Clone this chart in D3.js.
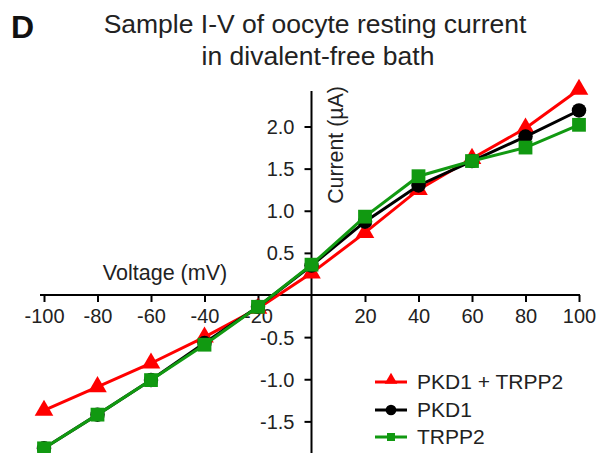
<!DOCTYPE html>
<html><head><meta charset="utf-8">
<script src="https://cdn.jsdelivr.net/npm/d3@7"></script>
<style>body{margin:0;background:#fff}svg{display:block;font-family:"Liberation Sans",Arial,sans-serif}</style>
</head><body><svg id="c" width="600" height="453"></svg>
<script>
const voltages = [-100,-80,-60,-40,-20,0,20,40,60,80,100];
const pkd1Trpp2 = [-1.37,-1.09,-0.81,-0.50,-0.16,0.26,0.74,1.25,1.62,1.98,2.44];
const pkd1 = [-1.82,-1.42,-1.01,-0.57,-0.14,0.35,0.87,1.30,1.59,1.88,2.19];
const trpp2 = [-1.82,-1.42,-1.01,-0.59,-0.14,0.36,0.93,1.41,1.59,1.75,2.02];
const xTicks = [-100,-80,-60,-40,-20,20,40,60,80,100];
const yTicks = [-1.5,-1.0,-0.5,0.5,1.0,1.5,2.0];
const seriesNames = ["PKD1 + TRPP2","PKD1","TRPP2"];
const seriesColors = ["#ff0000","#000000","#119911"];
const seriesShapes = [d3.symbolTriangle, d3.symbolCircle, d3.symbolSquare];

const svg = d3.select("#c");
const x = d3.scaleLinear().domain([-100,100]).range([44,579]);
const y = d3.scaleLinear().domain([0,2]).range([295,126.5]);

svg.append("text").attr("x",11).attr("y",38).attr("font-size",32).attr("font-weight","bold").attr("fill","#111").text("D");
svg.append("text").attr("x",315).attr("y",33).attr("text-anchor","middle").attr("font-size",26.5).attr("fill","#222").text("Sample I-V of oocyte resting current");
svg.append("text").attr("x",318).attr("y",65).attr("text-anchor","middle").attr("font-size",26.5).attr("fill","#222").text("in divalent-free bath");

// axes
const gx = svg.append("g").attr("transform",`translate(0,${y(0)})`)
  .call(d3.axisBottom(x).tickValues(xTicks).tickSize(7).tickSizeOuter(0).tickPadding(7).tickFormat(d=>String(d)));
gx.select(".domain").attr("d",`M${x(-100)-4},0H${x(100)+1}`);
const gy = svg.append("g").attr("transform",`translate(${x(0)},0)`)
  .call(d3.axisLeft(y).tickValues(yTicks).tickSize(7).tickSizeOuter(0).tickPadding(10).tickFormat(d=>d.toFixed(1)));
gy.select(".domain").attr("d",`M0,91V453`);
[gx,gy].forEach(g=>{
  g.selectAll("path,line").attr("stroke","#000").attr("stroke-width",2);
  g.selectAll("text").attr("font-size",20).attr("fill","#222").attr("font-family","\"Liberation Sans\",Arial,sans-serif");
});
gy.selectAll("text").attr("dy","0.35em");

svg.append("text").attr("x",165).attr("y",280).attr("text-anchor","middle").attr("font-size",21.5).attr("fill","#222").text("Voltage (mV)");
svg.append("text").attr("transform","translate(343,145) rotate(-90)").attr("text-anchor","middle").attr("font-size",21.3).attr("fill","#222").text("Current (\u00b5A)");

const data = [pkd1Trpp2,pkd1,trpp2];
const sizes = [150,165,190];
data.forEach((vals,i)=>{
  const pts = voltages.map((v,j)=>[x(v),y(vals[j])]);
  svg.append("path").attr("d",d3.line()(pts)).attr("fill","none").attr("stroke",seriesColors[i]).attr("stroke-width",3);
  svg.append("g").selectAll("path").data(pts).join("path")
    .attr("transform",d=>`translate(${d[0]},${d[1]})`)
    .attr("d",d3.symbol().type(seriesShapes[i]).size(sizes[i]))
    .attr("fill",seriesColors[i]);
});

// legend
const leg = svg.append("g");
const legY = [382,410,437];
seriesNames.forEach((n,i)=>{
  leg.append("line").attr("x1",375).attr("x2",407).attr("y1",legY[i]).attr("y2",legY[i]).attr("stroke",seriesColors[i]).attr("stroke-width",3);
  leg.append("path").attr("transform",`translate(391,${legY[i]+(i===0?-2:0)})`).attr("d",d3.symbol().type(seriesShapes[i]).size([70,90,64][i])).attr("fill",seriesColors[i]);
  leg.append("text").attr("x",417).attr("y",legY[i]).attr("dy","0.35em").attr("font-size",21).attr("fill","#222").text(n);
});
</script></body></html>
